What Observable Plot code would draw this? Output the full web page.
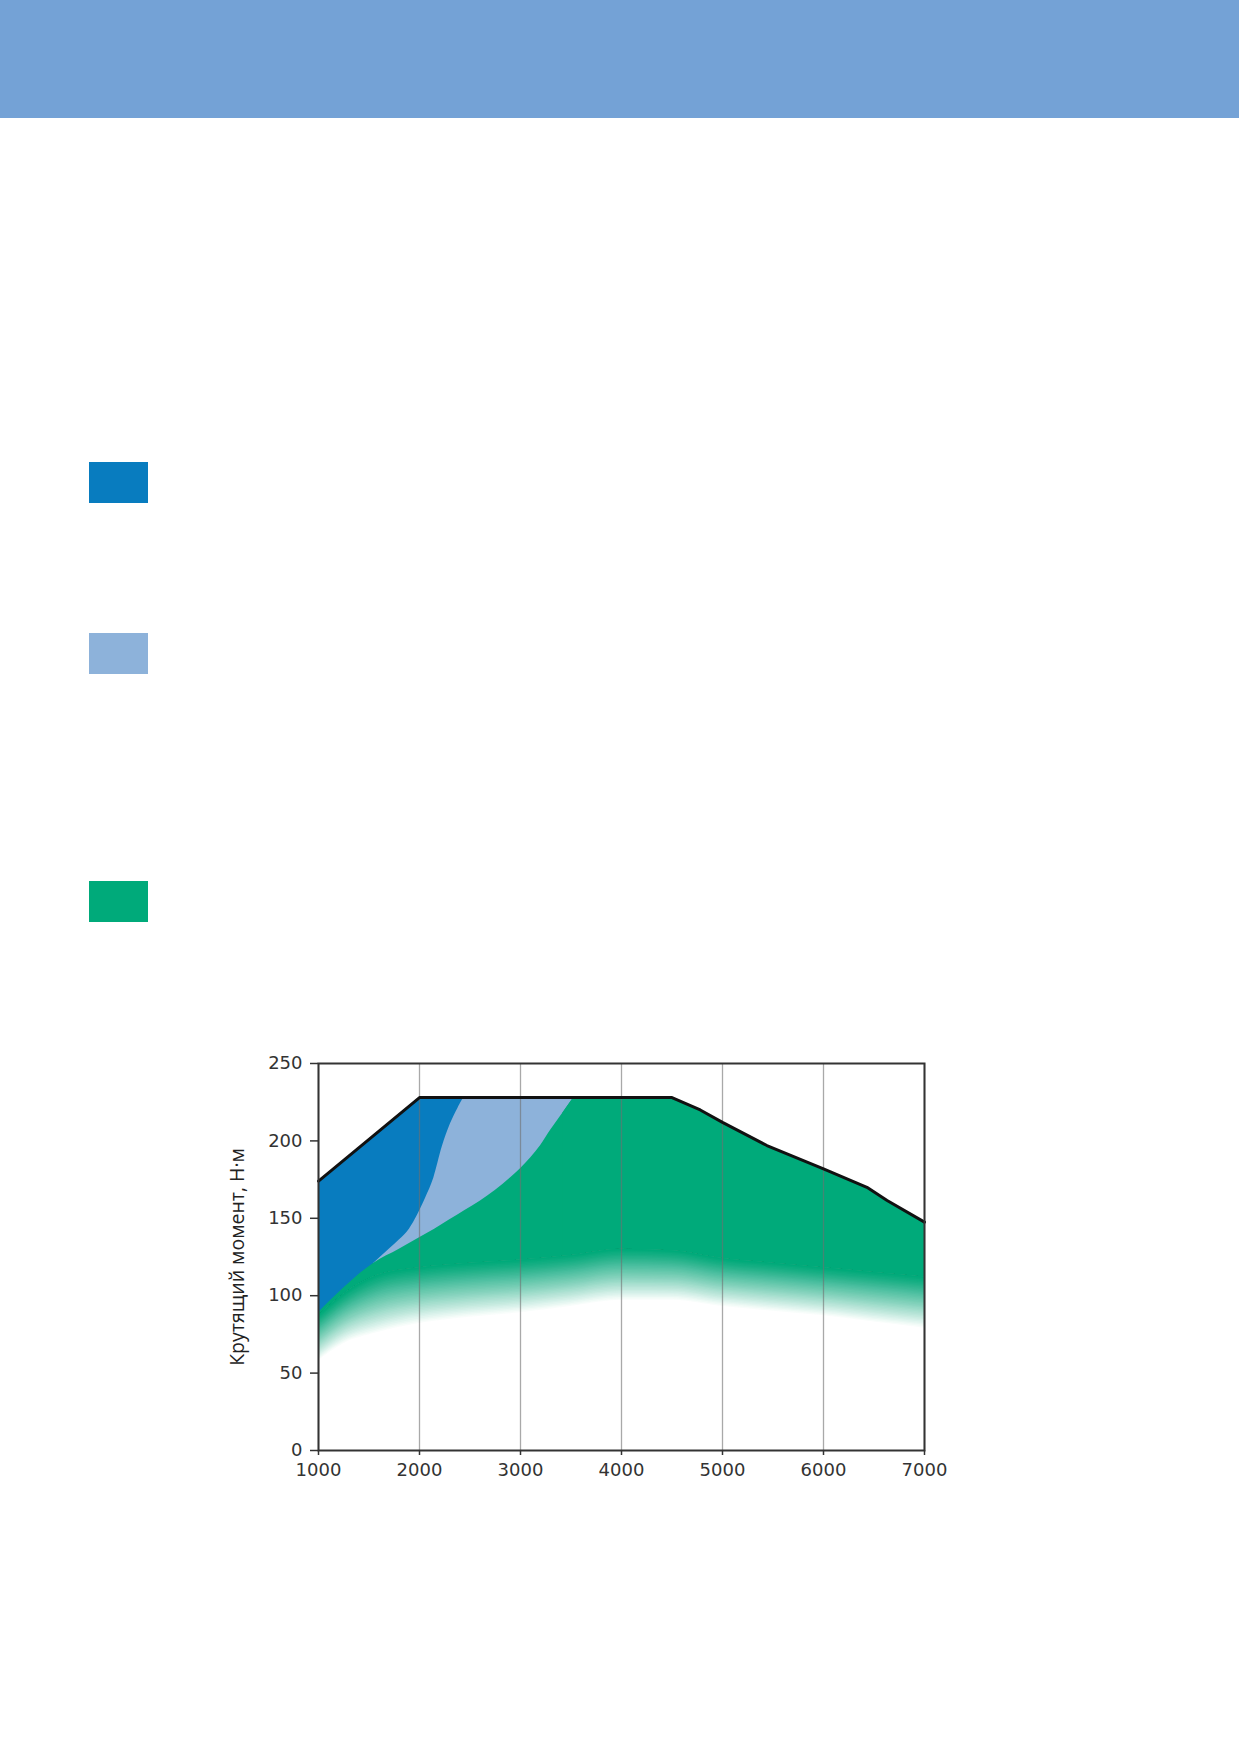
<!DOCTYPE html>
<html>
<head>
<meta charset="utf-8">
<script src="https://cdn.jsdelivr.net/npm/d3@7"></script>
<script src="https://cdn.jsdelivr.net/npm/@observablehq/plot@0.6"></script>
<style>
  html, body { margin: 0; padding: 0; background: #fff; }
  body { width: 1239px; height: 1752px; position: relative; overflow: hidden; }
  #band { position: absolute; left: 0; top: 0; width: 1239px; height: 118px; background: #74a2d6; }
  .sw { position: absolute; left: 89px; width: 59px; height: 41px; }
  #chart { position: absolute; left: 0; top: 1000px; }
</style>
</head>
<body>
<div id="band"></div>
<div id="legend"></div>
<div id="chart"></div>
<script>
// ---- data ----
const rpmTicks = [1000, 2000, 3000, 4000, 5000, 6000, 7000];
const torqueTicks = [0, 50, 100, 150, 200, 250];
const yLabel = "Крутящий момент, Н·м";

// series colours: dark blue, light blue, green
const seriesColors = ["#087cbf", "#8db2da", "#00aa7a"];
const legendTops = [462, 633, 881];

// maximum torque curve (top black line)
const topX = [1000, 2000, 4500, 4780, 5000, 5440, 6000, 6430, 6630, 7000];
const topY = [174, 228, 228, 220, 212, 197, 182, 170, 161.5, 147.5];

// boundary between dark blue and light blue
const dlX = [1548, 1700, 1800, 1900, 1980, 2060, 2142, 2225, 2307, 2380, 2455, 3528];
const dlY = [121, 130, 136, 143, 152, 163, 176, 196, 211, 221, 228, 228];

// upper boundary of the green zone (below the blue zones)
const gX = [1000, 1250, 1548, 1800, 2000, 2150, 2300, 2450, 2600, 2750, 2900, 3000, 3100, 3200, 3300, 3420, 3528];
const gY = [89, 105, 121, 130, 137.5, 143, 149, 155, 161, 168, 176, 182, 189, 197, 207, 218, 228];

// fading lower part of the green zone
const fadeX = [1000, 1250, 1580, 2000, 2500, 3000, 3500, 4000, 4500, 5000, 5500, 6000, 6500, 7000];
const fadeTop = [87, 101, 113, 118, 121, 123, 126, 130, 129, 124, 121, 118, 115, 112];
const fadeBottom = [58, 69, 76, 82, 86, 89, 93, 97, 97, 93, 90, 87, 83, 79];

// ---- legend swatches ----
const legend = document.getElementById("legend");
seriesColors.forEach((c, i) => {
  const d = document.createElement("div");
  d.className = "sw";
  d.style.top = legendTops[i] + "px";
  d.style.background = c;
  legend.appendChild(d);
});

// ---- build tables ----
const topTable = topX.map((x, i) => ({x, y: topY[i]}));
const dlTable = dlX.map((x, i) => ({x, y: dlY[i]}));
const greenHead = gX.map((x, i) => ({x, y: gY[i]}));
const greenTail = greenHead.slice(-2).concat(topTable.filter(d => d.x > gX[gX.length - 1]));
const fadeTable = fadeX.map((x, i) => ({x, lo: fadeBottom[i], hi: fadeTop[i]}));

const [cDark, cLight, cGreen] = seriesColors;
const N = 36;
const fadeLayers = d3.range(N).map(k =>
  Plot.areaY(fadeTable, {
    x: "x",
    y1: d => d.lo + (d.hi - d.lo) * k / N,
    y2: "hi",
    fill: cGreen,
    fillOpacity: 1 / (N - k),
    curve: "monotone-x"
  })
);

const chart = Plot.plot({
  width: 1239,
  height: 500,
  marginLeft: 318,
  marginRight: 315,
  marginTop: 63,
  marginBottom: 50,
  style: { fontFamily: "DejaVu Sans", fontSize: "18px", color: "#333", background: "transparent" },
  x: { domain: [1000, 7000] },
  y: { domain: [0, 250] },
  marks: [
    Plot.areaY(topTable, {x: "x", y1: 0, y2: "y", fill: cDark}),
    Plot.areaY(dlTable, {x: "x", y1: 0, y2: "y", fill: cLight, curve: "monotone-x"}),
    Plot.areaY(greenHead, {x: "x", y1: 0, y2: "y", fill: cGreen, curve: "monotone-x"}),
    Plot.areaY(greenTail, {x: "x", y1: 0, y2: "y", fill: cGreen}),
    Plot.areaY(fadeTable, {x: "x", y1: 0, y2: "hi", fill: "#fff", curve: "monotone-x"}),
    ...fadeLayers,
    Plot.gridX({ticks: rpmTicks, stroke: "#6f6f6f", strokeOpacity: 0.6, strokeWidth: 1.3}),
    Plot.lineY(topTable, {x: "x", y: "y", stroke: "#111", strokeWidth: 3, strokeLinejoin: "round"}),
    Plot.frame({stroke: "#333", strokeWidth: 2}),
    Plot.axisX({ticks: rpmTicks, tickFormat: d => String(d), tickSize: 5, tickPadding: 8, label: null, fontSize: 18, strokeWidth: 1.5}),
    Plot.axisY({ticks: torqueTicks, tickFormat: d => String(d), tickSize: 8, tickPadding: 8, label: null, fontSize: 18, strokeWidth: 1.5}),
    Plot.text([yLabel], {text: d => d, frameAnchor: "left", textAnchor: "middle", dx: -81, rotate: -90, fontSize: 19.5, fontFamily: "Open Sans", fill: "#222"})
  ]
});
document.getElementById("chart").appendChild(chart);
</script>
</body>
</html>
